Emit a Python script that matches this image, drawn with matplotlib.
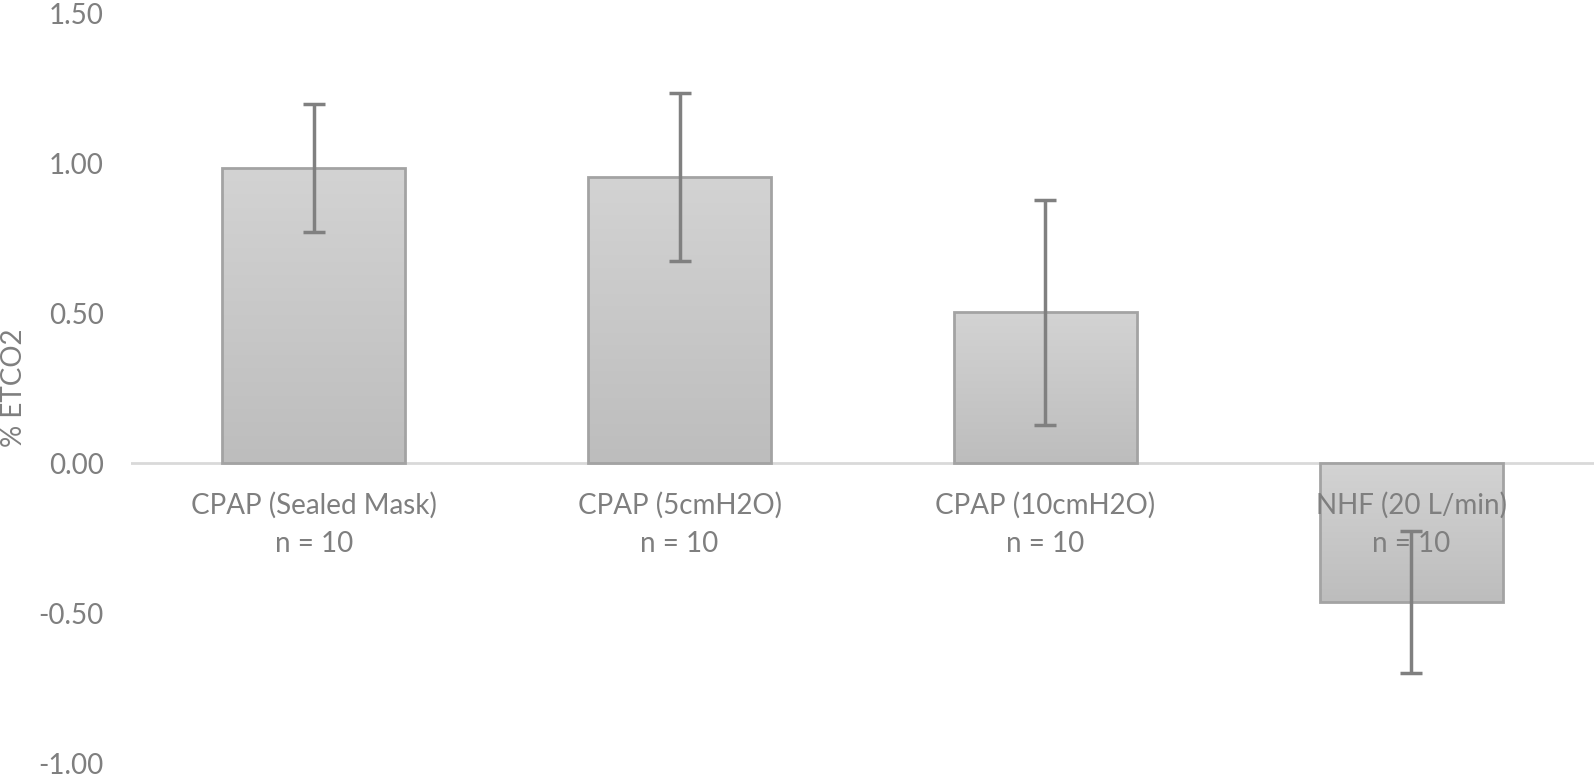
import matplotlib
matplotlib.use("Agg")
import matplotlib.pyplot as plt
import numpy as np
from matplotlib.colors import LinearSegmentedColormap

categories = ["CPAP (Sealed Mask)", "CPAP (5cmH2O)", "CPAP (10cmH2O)", "NHF (20 L/min)"]
n_labels = ["n = 10", "n = 10", "n = 10", "n = 10"]
means = [0.984, 0.954, 0.502, -0.464]
errors = [0.213, 0.281, 0.374, 0.236]
yticks = [-1.0, -0.5, 0.0, 0.5, 1.0, 1.5]

plt.rcParams['font.family'] = ['Lato', 'DejaVu Sans']
fig = plt.figure(figsize=(15.94, 7.80), dpi=100)
ax = fig.add_axes([131/1594, 17/780, (1594-131)/1594, (763-13)/780])

x = np.arange(len(categories))
bars = ax.bar(x, means, width=0.5, color='#c8c8c8', edgecolor='#a3a3a3', linewidth=2, zorder=2)

grad = np.linspace(0, 1, 256).reshape(-1, 1)
cmap = LinearSegmentedColormap.from_list('g', ['#bdbdbd', '#d3d3d3'])
for b in bars:
    x0, y0 = b.get_x(), b.get_y()
    w, h = b.get_width(), b.get_height()
    ylo, yhi = min(y0, y0 + h), max(y0, y0 + h)
    im = ax.imshow(grad, extent=[x0, x0 + w, ylo, yhi], origin='lower', cmap=cmap,
                   aspect='auto', zorder=2.1)
    im.set_clip_path(b)
    b.set_facecolor('none')
    b.set_zorder(2.2)

ax.errorbar(x, means, yerr=errors, fmt='none', ecolor='#808080', elinewidth=2.5,
            capsize=8, capthick=2.5, zorder=4)

ax.axhline(0, color='#d9d9d9', linewidth=2, zorder=1)

ax.set_xlim(-0.5, len(categories) - 0.5)
ax.set_ylim(-1.0, 1.5)
ax.set_yticks(yticks)
ax.set_yticklabels([f"{v:.2f}" for v in yticks], fontsize=20, color='#7f7f7f')
ax.tick_params(axis='y', length=0, pad=19.5)
ax.set_xticks([])
for s in ax.spines.values():
    s.set_visible(False)

for i, (c, n) in enumerate(zip(categories, n_labels)):
    ax.annotate(c + "\n" + n, xy=(i, 0), xytext=(0, -21), textcoords='offset points',
                ha='center', va='top', fontsize=20, color='#7f7f7f', linespacing=1.55, zorder=5)

fig.text(14/1594, 1 - 388/780, "% ETCO2", rotation=90, ha='center', va='center',
         fontsize=20, color='#7f7f7f')

fig.savefig("out.png", dpi=100)
